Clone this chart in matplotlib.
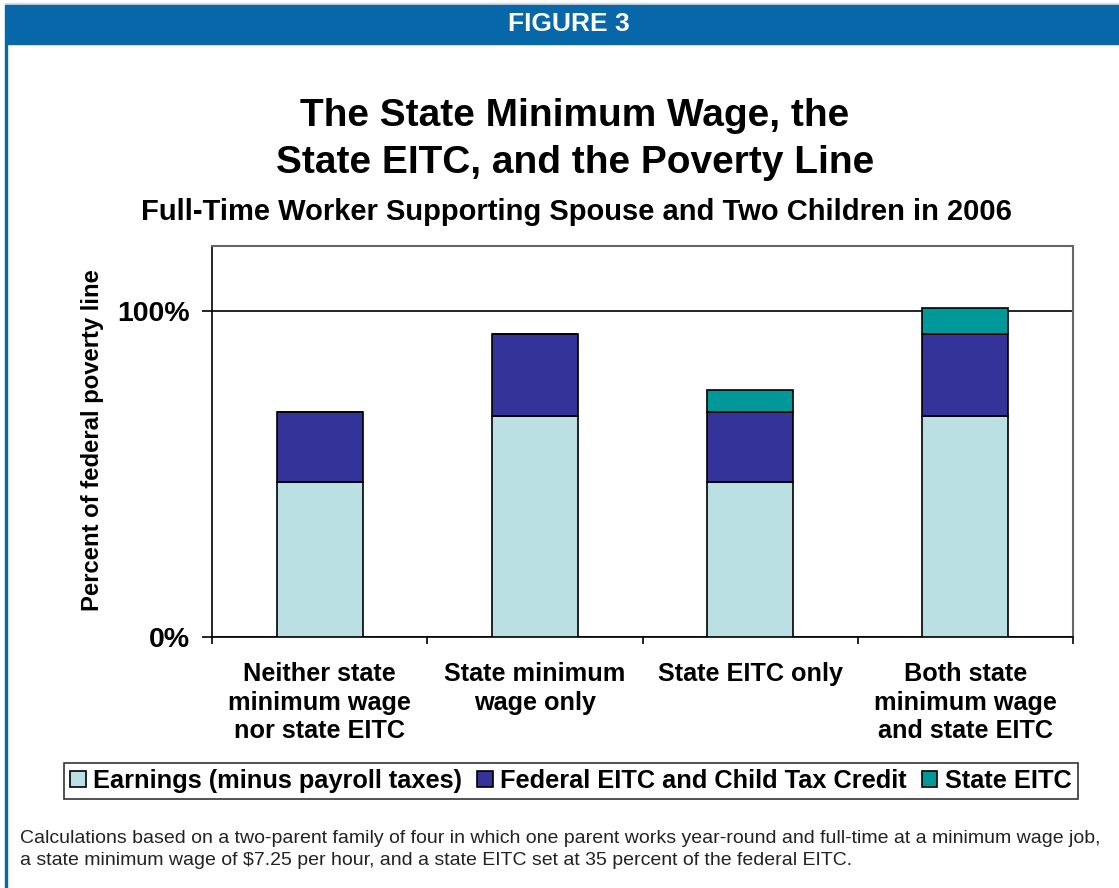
import numpy as np
import matplotlib
matplotlib.use('Agg')
import matplotlib.pyplot as plt
from matplotlib.patches import Rectangle

plt.rcParams['font.family'] = ['Liberation Sans', 'DejaVu Sans']

# Data (percent of federal poverty line)
categories = ['Neither state\nminimum wage\nnor state EITC',
              'State minimum\nwage only',
              'State EITC only',
              'Both state\nminimum wage\nand state EITC']
earnings = [47.6, 67.8, 47.6, 67.8]
federal_eitc = [21.3, 25.1, 21.3, 25.1]
state_eitc = [0.0, 0.0, 6.9, 7.9]
series_names = ['Earnings (minus payroll taxes)',
                'Federal EITC and Child Tax Credit',
                'State EITC']
colors = ['#BBE0E3', '#333399', '#009999']

W, H = 1119, 888
fig = plt.figure(figsize=(W / 100, H / 100), dpi=100)

# Blue header band and left border
fig.patches.append(Rectangle((5 / W, 1 - 5 / H), 1 - 5 / W, 1.5 / H,
                             transform=fig.transFigure, color='#DDDDDD', zorder=0))
fig.patches.append(Rectangle((5 / W, 1 - 44 / H), 1 - 5 / W, 39 / H,
                             transform=fig.transFigure, color='#0767A9', zorder=0))
fig.patches.append(Rectangle((5 / W, 0), 2 / W, 1 - 44 / H,
                             transform=fig.transFigure, color='#0767A9', zorder=0))
fig.text(569 / W, 1 - 24 / H, 'FIGURE 3', color='white', fontsize=19, weight='bold',
         ha='center', va='center')

# Titles
fig.text(575 / W, 1 - 139.5 / H, 'The State Minimum Wage, the\nState EITC, and the Poverty Line',
         fontsize=28, weight='bold', ha='center', va='center', linespacing=1.4)
fig.text(576 / W, 1 - 212 / H, 'Full-Time Worker Supporting Spouse and Two Children in 2006',
         fontsize=21, weight='bold', ha='center', va='center')

ax = fig.add_axes([212 / W, 1 - 637 / H, (1073 - 212) / W, (637 - 245.7) / H])
x = np.arange(len(categories))
bottoms = np.zeros(len(categories))
for vals, name, c in zip([earnings, federal_eitc, state_eitc], series_names, colors):
    vals = np.array(vals)
    ax.bar(x, vals, width=0.40, bottom=bottoms, color=c, edgecolor='black',
           linewidth=1.2, label=name, zorder=3)
    bottoms += vals

ax.set_xlim(-0.5, len(categories) - 0.5)
ax.set_ylim(0, 120)
ax.set_yticks([0, 100])
ax.set_yticklabels(['0%', '100%'], fontsize=20.5, weight='bold')
ax.yaxis.grid(True, color='black', linewidth=1.2, zorder=0)
ax.tick_params(axis='y', length=7, width=1.2, pad=9)

# category boundaries get the tick marks, labels sit on minor ticks at the centres
ax.set_xticks(np.arange(-0.5, len(categories)), labels=[''] * (len(categories) + 1))
ax.tick_params(axis='x', which='major', length=5, width=1.2, direction='out')
ax.set_xticks(x, minor=True)
ax.set_xticklabels(categories, minor=True, fontsize=18.2, weight='bold', linespacing=1.25)
ax.tick_params(axis='x', which='minor', length=0, pad=18)

for side in ['left', 'bottom']:
    ax.spines[side].set_color('black')
    ax.spines[side].set_linewidth(1.2)
for side in ['top', 'right']:
    ax.spines[side].set_color('#666666')
    ax.spines[side].set_linewidth(1.5)

fig.text(93 / W, 1 - 440 / H, 'Percent of federal poverty line', fontsize=17.2,
         weight='bold', rotation=90, ha='center', va='center')

handles, labels = ax.get_legend_handles_labels()
leg = fig.legend(handles, labels, loc='center', bbox_to_anchor=(571 / W, 1 - 781 / H),
                 ncol=3, prop={'weight': 'bold', 'size': 18.3},
                 frameon=True, fancybox=False, edgecolor='black',
                 handlelength=0.6, handleheight=0.6, handletextpad=0.3,
                 columnspacing=0.6, borderpad=0.25)
leg.get_frame().set_linewidth(1.2)

notes = ['Calculations based on a two-parent family of four in which one parent works year-round and full-time at a minimum wage job,',
         'a state minimum wage of $7.25 per hour, and a state EITC set at 35 percent of the federal EITC.']
for i, line in enumerate(notes):
    fig.text(20 / W, 1 - (838 + 22 * i) / H, line, fontsize=14, color='#222222',
             ha='left', va='center')

fig.savefig('out.png', dpi=100)
